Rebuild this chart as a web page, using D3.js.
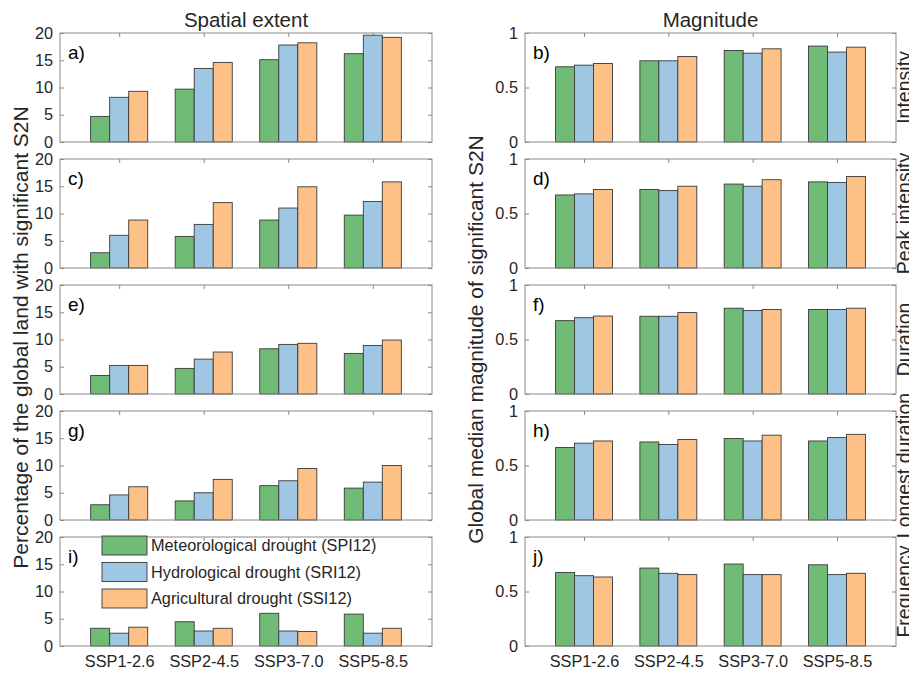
<!DOCTYPE html>
<html><head><meta charset="utf-8">
<script src="https://cdn.jsdelivr.net/npm/d3@7"></script>
<style>
body{margin:0;background:#fff}
svg{display:block}
text{font-family:"Liberation Sans",Arial,Helvetica,sans-serif}
</style>
</head><body>
<svg id="chart" width="909" height="673"></svg>
<script>
// ---------------- DATA ----------------
const scenarios = ["SSP1-2.6", "SSP2-4.5", "SSP3-7.0", "SSP5-8.5"];
const seriesNames = ["Meteorological drought (SPI12)", "Hydrological drought (SRI12)", "Agricultural drought (SSI12)"];
const rowNames = ["Intensity", "Peak intensity", "Duration", "Longest duration", "Frequency"];
const lettersLeft = ["a)", "c)", "e)", "g)", "i)"];
const lettersRight = ["b)", "d)", "f)", "h)", "j)"];
const columnTitles = ["Spatial extent", "Magnitude"];
const yLabelLeft = "Percentage of the global land with significant S2N";
const yLabelRight = "Global median magnitude of significant S2N";
const extentTicks = [0, 5, 10, 15, 20];
const magnitudeTicks = [0, 0.5, 1];

// Spatial extent (%) — each row: per scenario [SPI12, SRI12, SSI12]
const extentIntensity     = [[4.7, 8.2, 9.3], [9.7, 13.5, 14.6], [15.1, 17.8, 18.2], [16.2, 19.6, 19.2]];
const extentPeakIntensity = [[2.8, 6.0, 8.8], [5.8, 8.0, 12.0], [8.8, 11.0, 14.9], [9.7, 12.2, 15.8]];
const extentDuration      = [[3.4, 5.25, 5.25], [4.7, 6.4, 7.7], [8.3, 9.1, 9.3], [7.45, 8.9, 9.9]];
const extentLongest       = [[2.8, 4.6, 6.1], [3.5, 5.0, 7.45], [6.3, 7.2, 9.45], [5.85, 6.95, 10.0]];
const extentFrequency     = [[3.25, 2.35, 3.45], [4.45, 2.75, 3.25], [6.0, 2.75, 2.65], [5.85, 2.35, 3.25]];

// Magnitude — each row: per scenario [SPI12, SRI12, SSI12]
const magIntensity     = [[0.69, 0.705, 0.72], [0.745, 0.745, 0.785], [0.84, 0.815, 0.855], [0.88, 0.825, 0.87]];
const magPeakIntensity = [[0.67, 0.68, 0.72], [0.72, 0.71, 0.75], [0.77, 0.75, 0.81], [0.79, 0.785, 0.84]];
const magDuration      = [[0.673, 0.70, 0.715], [0.713, 0.713, 0.747], [0.787, 0.766, 0.775], [0.775, 0.775, 0.787]];
const magLongest       = [[0.665, 0.705, 0.725], [0.716, 0.693, 0.738], [0.748, 0.725, 0.778], [0.725, 0.756, 0.786]];
const magFrequency     = [[0.675, 0.645, 0.633], [0.715, 0.667, 0.655], [0.752, 0.655, 0.655], [0.745, 0.655, 0.667]];

const extentRows = [extentIntensity, extentPeakIntensity, extentDuration, extentLongest, extentFrequency];
const magRows = [magIntensity, magPeakIntensity, magDuration, magLongest, magFrequency];

// ---------------- STYLE / LAYOUT ----------------
const colors = ["#70bb76", "#9fc6e3", "#fdc087"];
const boxColor = "#8a8a8a";
const textColor = "#262626";
const cols = [{x0: 60, x1: 432}, {x0: 525, x1: 896}];
const panelTop0 = 33, panelH = 109, panelStep = 126;
const barW = 0.225; // in category units
const tickFont = "16.3px";

const svg = d3.select("#chart");

function drawPanel(col, row, data, yMax, ticks, letter, showX) {
  const c = cols[col];
  const top = panelTop0 + row * panelStep;
  const bottom = top + panelH;
  const x = d3.scaleLinear().domain([0.3, 4.7]).range([c.x0, c.x1]);
  const y = d3.scaleLinear().domain([0, yMax]).range([bottom, top]);
  const g = svg.append("g");

  const fmt = d3.format("~g");
  const yl = g.append("g").attr("transform", `translate(${c.x0},0)`)
    .call(d3.axisLeft(y).tickValues(ticks).tickFormat(fmt).tickSizeInner(-4).tickSizeOuter(0).tickPadding(7));
  const yr = g.append("g").attr("transform", `translate(${c.x1},0)`)
    .call(d3.axisRight(y).tickValues(ticks).tickFormat("").tickSizeInner(-4).tickSizeOuter(0));
  const xt = g.append("g").attr("transform", `translate(0,${top})`)
    .call(d3.axisTop(x).tickValues([1, 2, 3, 4]).tickFormat("").tickSizeInner(-4).tickSizeOuter(0));
  const xb = g.append("g").attr("transform", `translate(0,${bottom})`)
    .call(d3.axisBottom(x).tickValues([1, 2, 3, 4]).tickFormat((d) => showX ? scenarios[d - 1] : "")
      .tickSizeInner(-4).tickSizeOuter(0).tickPadding(9));
  [yl, yr, xt, xb].forEach(a => {
    a.select(".domain").remove();
    a.selectAll(".tick line").attr("stroke", boxColor);
    a.selectAll(".tick text").attr("fill", textColor).style("font-size", tickFont)
      .style("font-family", '"Liberation Sans",Arial,sans-serif');
  });

  // bars
  const flat = [];
  data.forEach((vals, i) => vals.forEach((v, j) => flat.push({i, j, v})));
  g.append("g").selectAll("rect").data(flat).join("rect")
    .attr("x", d => x(d.i + 1 + (d.j - 1) * barW - barW / 2))
    .attr("width", d => x(barW) - x(0))
    .attr("y", d => y(d.v))
    .attr("height", d => y(0) - y(d.v))
    .attr("fill", d => colors[d.j])
    .attr("stroke", "#3a3a3a")
    .attr("stroke-width", 0.9);

  // box
  g.append("rect").attr("x", c.x0).attr("y", top)
    .attr("width", c.x1 - c.x0).attr("height", panelH)
    .attr("fill", "none").attr("stroke", boxColor).attr("stroke-width", 1);

  // panel letter
  g.append("text").attr("x", c.x0 + 8).attr("y", top + 26)
    .attr("fill", "#000").style("font-size", "19px").text(letter);
  return {top, bottom};
}

rowNames.forEach((name, r) => {
  drawPanel(0, r, extentRows[r], 20, extentTicks, lettersLeft[r], r === 4);
  const p = drawPanel(1, r, magRows[r], 1, magnitudeTicks, lettersRight[r], r === 4);
  // right-edge row label (partly beyond the page edge, as in the original)
  const cy = (p.top + p.bottom) / 2;
  svg.append("text").attr("transform", `translate(911,${cy}) rotate(-90)`)
    .attr("text-anchor", "middle").attr("fill", textColor)
    .style("font-size", "19.5px").text(name);
});

// column titles
columnTitles.forEach((t, i) => {
  svg.append("text").attr("x", (cols[i].x0 + cols[i].x1) / 2).attr("y", 27)
    .attr("text-anchor", "middle").attr("fill", textColor)
    .style("font-size", "20.5px").text(t);
});

// y-axis labels
const midY = (panelTop0 + panelTop0 + 4 * panelStep + panelH) / 2;
svg.append("text").attr("transform", `translate(28,${midY - 2}) rotate(-90)`)
  .attr("text-anchor", "middle").attr("fill", textColor)
  .style("font-size", "21px").text(yLabelLeft);
svg.append("text").attr("transform", `translate(483,${midY}) rotate(-90)`)
  .attr("text-anchor", "middle").attr("fill", textColor)
  .style("font-size", "21px").text(yLabelRight);

// legend (inside panel i)
const legTop = panelTop0 + 4 * panelStep - 1;
const leg = svg.append("g");
seriesNames.forEach((s, k) => {
  const yy = legTop + k * 26.5;
  leg.append("rect").attr("x", 102).attr("y", yy).attr("width", 45).attr("height", 19)
    .attr("fill", colors[k]).attr("stroke", "#3a3a3a").attr("stroke-width", 0.9);
  leg.append("text").attr("x", 151).attr("y", yy + 9.5).attr("dy", "0.36em")
    .attr("fill", textColor).style("font-size", tickFont).text(s);
});
</script>
</body></html>
